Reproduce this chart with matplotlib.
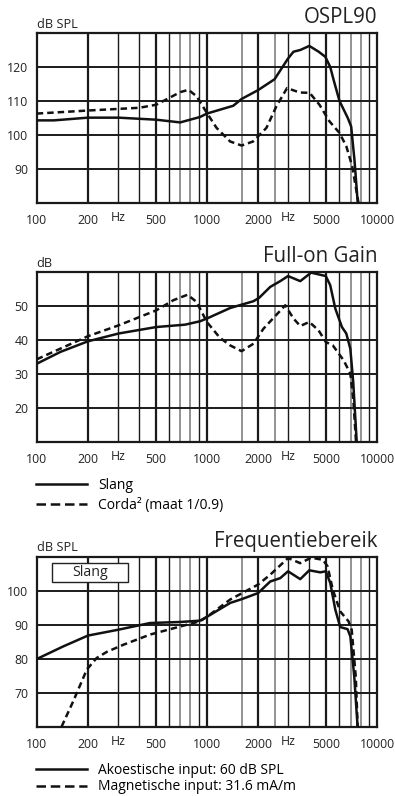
import matplotlib
matplotlib.use("Agg")
import matplotlib.pyplot as plt
import matplotlib.transforms as mtransforms
from matplotlib.lines import Line2D
from matplotlib.patches import Rectangle

plt.rcParams['font.family'] = ['Open Sans', 'DejaVu Sans']

# x axis (Hz, log)
tick_freqs = [100, 200, 300, 500, 1000, 2000, 3000, 5000, 10000]
tick_labels = ['100', '200', 'Hz', '500', '1000', '2000', 'Hz', '5000', '10000']
grid_major = [200, 500, 1000, 2000, 5000]
grid_minor = [300, 400, 600, 900, 3000, 4000, 6000, 9000]
grid_grey = [700, 800, 1600, 2500, 7000, 8000]

# OSPL90
ospl_slang_f = [100, 126, 200, 303, 504, 697, 912, 1000, 1430, 1600, 2000, 2500, 3000, 3230,
                3540, 4000, 4540, 4970, 5310, 5560, 6020, 6735, 7050, 7370, 7708]
ospl_slang_db = [104.3, 104.3, 105.1, 105.1, 104.5, 103.7, 105.3, 106.3, 108.6, 110.6, 113.2,
                 116.4, 122.5, 124.5, 125.0, 126.2, 124.5, 123.0, 120.0, 116.2, 110.0, 105.0,
                 102.5, 92.7, 80.0]
ospl_corda_f = [100, 200, 400, 504, 697, 780, 870, 1000, 1140, 1370, 1600, 1870, 2240, 2560,
                2960, 3510, 4018, 4590, 5260, 6020, 6600, 7150, 7490, 7800]
ospl_corda_db = [106.3, 107.2, 108.0, 108.9, 112.6, 113.3, 111.4, 106.5, 102.1, 98.1, 96.9, 98.1,
                 102.1, 108.4, 113.8, 112.5, 112.4, 108.9, 104.0, 100.6, 96.7, 90.8, 84.9, 79.8]

# Full-on Gain
gain_slang_f = [100, 138, 200, 303, 504, 745, 912, 1000, 1371, 1880, 2030, 2357, 2700, 3000,
                3540, 4100, 5000, 5310, 5690, 6220, 6600, 6970, 7250, 7600]
gain_slang_db = [33.1, 36.6, 39.7, 42.0, 43.9, 44.6, 45.6, 46.4, 49.5, 51.5, 52.5, 55.7, 57.4,
                 58.9, 57.4, 59.9, 58.9, 56.2, 49.3, 43.9, 42.0, 37.5, 27.7, 10.0]
gain_corda_f = [100, 200, 303, 504, 636, 770, 870, 1000, 1190, 1371, 1600, 1880, 2150, 2890,
                3230, 3540, 4000, 4540, 5000, 5500, 6370, 6970, 7250, 7530]
gain_corda_db = [34.4, 41.2, 44.4, 48.8, 51.8, 53.4, 51.3, 45.4, 40.8, 38.5, 36.8, 39.0, 43.4,
                 50.3, 46.4, 44.2, 45.4, 42.9, 39.5, 38.5, 34.1, 30.2, 22.8, 10.0]

# Frequentiebereik
freq_akoe_f = [100, 143, 200, 300, 464, 700, 912, 1000, 1371, 1600, 2000, 2357, 2700, 3000,
               3540, 4000, 4640, 5000, 5310, 5690, 6080, 6710, 6970, 7350, 7690]
freq_akoe_db = [79.9, 83.6, 86.8, 88.5, 90.5, 90.8, 91.2, 92.3, 96.4, 97.5, 99.3, 102.7, 103.7,
                105.7, 103.4, 106.0, 105.4, 105.7, 102.3, 94.4, 89.3, 88.7, 86.6, 74.8, 60.0]
freq_magn_f = [140, 164, 197, 225, 258, 323, 464, 700, 912, 1000, 1371, 2000, 2357, 3000,
               3540, 4100, 4800, 5120, 5500, 6080, 6800, 7100, 7500, 7700]
freq_magn_db = [60.0, 67.5, 76.8, 80.2, 82.0, 84.1, 87.1, 89.5, 91.0, 92.3, 97.4, 101.8, 104.7,
                109.6, 108.1, 109.7, 109.1, 107.2, 100.3, 93.9, 91.0, 88.5, 74.8, 60.0]

W, H = 395.0, 796.0
fig = plt.figure(figsize=(W / 100, H / 100), dpi=100)

LW = 1.8
DASH = (2.6, 1.6)
INK = '#1a1a1a'


def make_panel(top_px, ylim, yticks, title, unit):
    left, right = 36.7, 377.0
    ax = fig.add_axes([left / W, 1 - (top_px + 170) / H, (right - left) / W, 170 / H])
    ax.set_xscale('log')
    ax.set_xlim(100, 10000)
    ax.set_ylim(*ylim)
    for f in grid_major:
        ax.axvline(f, color=INK, lw=1.6, zorder=1)
    for f in grid_minor:
        ax.axvline(f, color=INK, lw=1.0, zorder=1)
    for f in grid_grey:
        ax.axvline(f, color='#8a8a8a', lw=1.3, zorder=1)
    for y in yticks:
        ax.axhline(y, color=INK, lw=1.4, zorder=1)
    for s in ax.spines.values():
        s.set_linewidth(1.6)
        s.set_color(INK)
    ax.set_xticks(tick_freqs)
    ax.set_xticklabels(tick_labels)
    ax.xaxis.set_minor_locator(matplotlib.ticker.NullLocator())
    ax.set_yticks(yticks)
    ax.set_yticklabels([str(y) for y in yticks])
    ax.tick_params(length=0, labelsize=8.8, colors='#222222')
    ax.tick_params(axis='x', pad=8)
    ax.tick_params(axis='y', pad=6)
    for lab in ax.get_xticklabels():
        if lab.get_text() == 'Hz':
            lab.set_transform(lab.get_transform() +
                              mtransforms.ScaledTranslation(0, 3 / 100, fig.dpi_scale_trans))
    ax.text(1.0, 1 + 10 / 170, title, transform=ax.transAxes, ha='right', va='baseline',
            fontsize=14.8, color='#222222')
    ax.text(0.0, 1 + 5.5 / 170, unit, transform=ax.transAxes, ha='left', va='baseline',
            fontsize=9.2, color='#222222')
    return ax


ax1 = make_panel(33, (80, 130), [90, 100, 110, 120], 'OSPL90', 'dB SPL')
ax1.plot(ospl_slang_f, ospl_slang_db, color='#111111', lw=LW, zorder=3)
ax1.plot(ospl_corda_f, ospl_corda_db, color='#111111', lw=LW, dashes=DASH, zorder=3)

ax2 = make_panel(272.3, (10, 60), [20, 30, 40, 50], 'Full-on Gain', 'dB')
ax2.plot(gain_slang_f, gain_slang_db, color='#111111', lw=LW, zorder=3)
ax2.plot(gain_corda_f, gain_corda_db, color='#111111', lw=LW, dashes=DASH, zorder=3)

ax3 = make_panel(556.7, (60, 110), [70, 80, 90, 100], 'Frequentiebereik', 'dB SPL')
ax3.plot(freq_akoe_f, freq_akoe_db, color='#111111', lw=LW, zorder=3)
ax3.plot(freq_magn_f, freq_magn_db, color='#111111', lw=LW, dashes=DASH, zorder=3)
ax3.add_patch(Rectangle((0.045, 0.851), 0.223, 0.112, transform=ax3.transAxes,
                        facecolor='white', edgecolor='#222222', lw=1.0, zorder=5))
ax3.text(0.1565, 0.905, 'Slang', transform=ax3.transAxes, ha='center', va='center',
         fontsize=10.2, color='#222222', zorder=6)

solid_h = Line2D([], [], color='#111111', lw=LW)
dash_h = Line2D([], [], color='#111111', lw=LW, dashes=(3.8, 1.9))

fig.legend([solid_h, dash_h], ['Slang', 'Corda\u00b2 (maat 1/0.9)'], loc='upper left',
           bbox_to_anchor=(36 / W, 1 - 478 / H), frameon=False, fontsize=10,
           handlelength=3.67, handletextpad=0.8, labelspacing=0.34, borderpad=0,
           borderaxespad=0)
fig.legend([solid_h, dash_h], ['Akoestische input: 60 dB SPL', 'Magnetische input: 31.6 mA/m'],
           loc='upper left', bbox_to_anchor=(36 / W, 1 - 763 / H), frameon=False,
           fontsize=10, handlelength=3.67, handletextpad=0.8, labelspacing=0.1, borderpad=0,
           borderaxespad=0)

plt.savefig('out.png', dpi=100)
